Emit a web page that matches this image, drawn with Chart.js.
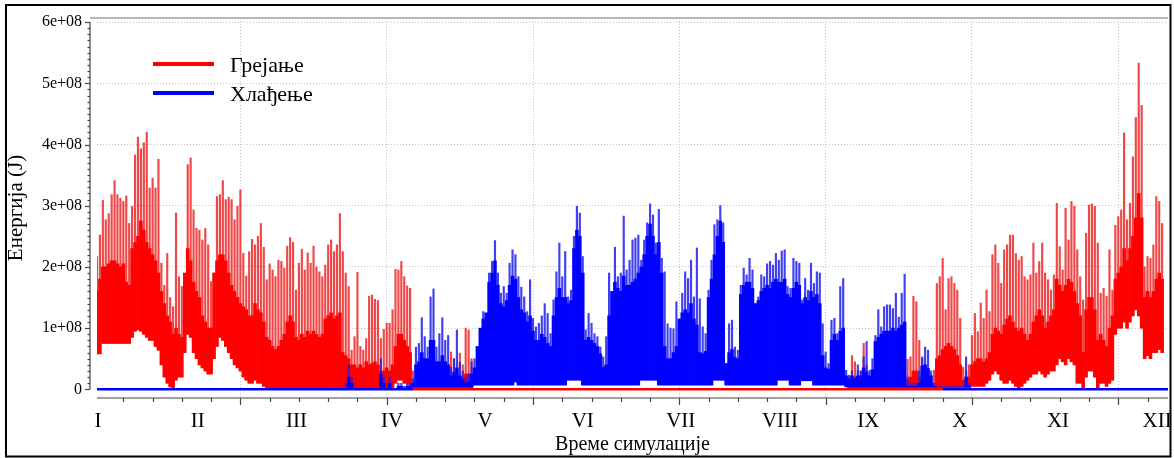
<!DOCTYPE html>
<html>
<head>
<meta charset="utf-8">
<title>Енергија</title>
<script src="https://cdn.jsdelivr.net/npm/chart.js@4.4.1/dist/chart.umd.min.js"></script>
<style>
  html, body { margin: 0; padding: 0; background: #fff; }
  canvas { display: block; }
</style>
</head>
<body>
<canvas id="energyChart" width="1174" height="458"></canvas>
<script>
// Energy per simulated day, in units of 1e8 J.
// peak = daily spike, high/low = top and bottom of the dense hourly band.

// heating, January to early May (first entry = day 0)
var heatStartA = 0;
var heatPeakA = [
    2.17, 2.52, 3.09, 2.77, 2.87, 3.18, 3.41, 3.18, 3.12, 3.07,
    3.16, 2.71, 2.99, 3.83, 4.12, 3.93, 4.03, 4.20, 3.29, 3.45,
    3.29, 3.76, 2.06, 1.70, 2.22, 1.50, 1.35, 2.88, 1.84, 1.68,
    1.68, 3.67, 3.78, 2.93, 2.63, 2.60, 2.44, 2.63, 2.36, 1.76,
    1.90, 3.15, 3.18, 3.41, 3.10, 3.14, 3.10, 2.77, 2.99, 3.26,
    2.22, 1.85, 2.25, 2.45, 2.36, 2.50, 2.71, 2.32, 1.79, 2.05,
    1.95, 1.84, 2.11, 2.09, 1.98, 2.34, 2.48, 2.40, 1.62, 2.06,
    2.29, 1.95, 2.23, 2.06, 2.34, 2.00, 1.92, 1.84, 2.03, 2.36,
    2.44, 2.25, 2.36, 2.87, 2.25, 1.90, 1.68, 0.64, 0.86, 1.91,
    0.70, 0.64, 0.83, 1.52, 1.54, 1.47, 1.45, 0.83, 0.98, 1.08,
    1.08, 1.30, 1.96, 1.95, 2.09, 1.84, 1.69, 1.65, 0.30, 0.20,
    0.15, 0.10, 0.10, 0.15, 0.10, 0.10, 0.10, 0.10, 0.20, 0.10,
    0.30, 0.61, 0.50, 0.30, 0.59, 0.40, 1.00, 0.97, 0.50
];
var heatHighA = [
    1.60, 1.80, 2.00, 2.00, 2.05, 2.10, 2.10, 2.05, 2.00, 2.05,
    1.75, 1.70, 2.30, 2.40, 2.50, 2.75, 2.60, 2.40, 2.30, 2.20,
    2.10, 1.90, 1.60, 1.40, 1.20, 1.10, 0.90, 1.00, 0.90, 0.85,
    1.90, 2.30, 2.10, 1.75, 1.60, 1.50, 1.20, 1.10, 1.00, 1.00,
    1.90, 2.10, 2.20, 2.20, 2.10, 1.90, 1.70, 1.60, 1.50, 1.40,
    1.35, 1.30, 1.20, 1.20, 1.40, 1.30, 1.25, 1.10, 0.85, 0.80,
    0.70, 0.65, 0.70, 0.80, 0.90, 1.10, 1.20, 1.10, 0.85, 0.80,
    0.90, 0.85, 0.95, 0.90, 0.95, 0.90, 0.85, 0.90, 1.15, 1.20,
    1.25, 1.15, 1.20, 1.25, 0.60, 0.55, 0.50, 0.40, 0.40, 0.35,
    0.40, 0.35, 0.45, 0.40, 0.42, 0.45, 0.40, 0.30, 0.30, 0.35,
    0.30, 0.40, 0.70, 0.90, 0.90, 0.80, 0.70, 0.60, 0.08, 0.06,
    0.05, 0.05, 0.05, 0.06, 0.05, 0.05, 0.05, 0.05, 0.06, 0.05,
    0.10, 0.20, 0.20, 0.10, 0.15, 0.20, 0.25, 0.25, 0.10
];
var heatLowA = [
    0.58, 0.58, 0.75, 0.75, 0.75, 0.75, 0.75, 0.75, 0.75, 0.75,
    0.75, 0.75, 0.85, 0.95, 0.97, 0.95, 0.90, 0.85, 0.80, 0.80,
    0.70, 0.64, 0.40, 0.20, 0.10, 0.04, 0, 0.15, 0.20, 0.20,
    0.60, 0.90, 0.85, 0.60, 0.50, 0.40, 0.35, 0.30, 0.25, 0.25,
    0.50, 0.70, 0.85, 0.80, 0.70, 0.60, 0.50, 0.40, 0.35, 0.30,
    0.20, 0.15, 0.10, 0.10, 0.15, 0.10, 0.10, 0.05, 0, 0,
    0, 0, 0, 0, 0, 0, 0, 0, 0, 0,
    0, 0, 0, 0, 0, 0, 0, 0, 0, 0,
    0, 0, 0, 0, 0, 0, 0, 0, 0, 0,
    0, 0, 0, 0, 0, 0, 0, 0, 0, 0,
    0, 0, 0.10, 0.15, 0.15, 0.10, 0.10, 0.05, 0, 0,
    0, 0, 0, 0, 0, 0, 0, 0, 0, 0,
    0, 0, 0, 0, 0, 0, 0, 0, 0
];

// heating, mid September to end of year
var heatStartB = 257;
var heatPeakB = [
    0.20, 0.55, 0.45, 0.31, 0.30, 0.75, 0.40, 0.15, 0.10, 0.15,
    0.10, 0.15, 0.20, 0.10, 0.15, 0.20, 0.15, 0.10, 0.15, 0.20,
    0.49, 0.53, 1.52, 1.43, 0.80, 0.50, 0.30, 0.25, 0.20, 0.31,
    1.73, 1.84, 2.14, 1.30, 1.81, 1.84, 1.73, 1.62, 1.16, 0.36,
    0.30, 0.40, 0.88, 1.24, 0.94, 1.41, 1.16, 1.62, 1.27, 2.20,
    2.36, 2.06, 1.73, 2.28, 2.36, 2.52, 2.52, 2.22, 2.11, 2.17,
    1.84, 1.79, 1.87, 2.39, 1.90, 2.09, 2.39, 1.90, 1.79, 1.62,
    1.87, 3.04, 2.33, 1.95, 2.96, 2.44, 3.07, 2.99, 2.28, 1.84,
    1.46, 2.55, 3.01, 3.03, 2.99, 2.39, 1.57, 1.65, 1.52, 2.28,
    1.62, 2.68, 2.82, 2.93, 4.19, 2.77, 3.04, 3.80, 4.44, 5.33,
    4.64, 2.00, 2.17, 2.14, 2.36, 3.15, 3.07, 2.71
];
var heatHighB = [
    0.10, 0.15, 0.20, 0.20, 0.10, 0.30, 0.15, 0.05, 0.05, 0.05,
    0.05, 0.05, 0.05, 0.05, 0.05, 0.05, 0.05, 0.05, 0.05, 0.05,
    0.15, 0.20, 0.30, 0.30, 0.20, 0.10, 0.10, 0.10, 0.10, 0.10,
    0.50, 0.55, 0.65, 0.70, 0.75, 0.70, 0.65, 0.55, 0.40, 0.15,
    0.15, 0.20, 0.40, 0.45, 0.50, 0.50, 0.45, 0.50, 0.60, 0.90,
    1.00, 0.95, 0.90, 1.05, 1.15, 1.20, 1.10, 1.00, 0.95, 1.00,
    0.90, 0.80, 0.90, 1.10, 1.20, 1.30, 1.20, 1.00, 1.10, 1.20,
    1.30, 1.80, 1.70, 1.60, 1.70, 1.80, 1.75, 1.60, 1.40, 1.20,
    0.60, 1.30, 1.50, 1.50, 1.30, 0.80, 0.90, 0.80, 0.70, 1.00,
    1.20, 1.80, 1.90, 2.00, 2.30, 2.10, 2.30, 2.50, 2.80, 3.20,
    2.80, 1.50, 1.60, 1.50, 1.60, 1.80, 1.90, 1.80
];
var heatLowB = [
    0, 0, 0, 0, 0, 0, 0, 0, 0, 0,
    0, 0, 0, 0, 0, 0, 0, 0, 0, 0,
    0, 0, 0, 0, 0, 0, 0, 0, 0, 0,
    0, 0, 0, 0, 0, 0, 0, 0, 0, 0,
    0, 0, 0.05, 0.05, 0.05, 0.05, 0.05, 0.10, 0.15, 0.25,
    0.30, 0.25, 0.15, 0.10, 0.10, 0.15, 0.10, 0.05, 0, 0.05,
    0.10, 0.15, 0.20, 0.25, 0.25, 0.30, 0.25, 0.20, 0.25, 0.30,
    0.30, 0.40, 0.50, 0.45, 0.40, 0.50, 0.45, 0.40, 0.10, 0.10,
    0, 0.20, 0.30, 0.30, 0.20, 0, 0.10, 0.10, 0.05, 0.10,
    0.15, 0.90, 1.00, 1.00, 1.10, 1.00, 1.10, 1.20, 1.30, 1.20,
    1.00, 0.50, 0.55, 0.50, 0.60, 0.60, 0.65, 0.60
];

// cooling, late March to late October
var coolStart = 85;
var coolPeak = [
    0.10, 0.40, 0.20, 0, 0, 0, 0, 0, 0, 0,
    0, 0, 0.50, 0.20, 0, 0.20, 0, 0, 0.10, 0.10,
    0.05, 0.10, 0.10, 0.17, 0.69, 0.75, 1.17, 0.86, 0.69, 1.51,
    1.64, 0.69, 0.91, 1.17, 0.80, 0.88, 0.36, 0.50, 0.97, 0.44,
    0.30, 0.20, 0.25, 0.45, 0.50, 0.64, 0.86, 1.27, 1.13, 1.90,
    2.09, 2.43, 1.90, 1.57, 1.68, 1.57, 2.06, 2.28, 2.20, 1.84,
    1.67, 1.51, 1.27, 1.79, 1.16, 1.02, 1.08, 1.20, 1.40, 1.24,
    0.91, 1.46, 1.92, 2.39, 1.84, 2.25, 1.51, 1.62, 2.50, 2.99,
    2.88, 2.17, 0.97, 1.24, 1.08, 0.91, 0.86, 0.69, 0.53, 0.86,
    1.90, 1.50, 2.32, 1.84, 1.90, 2.83, 1.95, 2.11, 2.44, 2.47,
    2.52, 2.11, 2.44, 2.72, 3.03, 2.85, 2.39, 2.94, 2.14, 1.92,
    1.07, 1.00, 0.99, 1.43, 1.07, 1.57, 1.92, 1.81, 2.11, 1.51,
    2.31, 1.48, 1.02, 0.91, 1.62, 2.11, 2.69, 2.77, 3.00, 2.72,
    0.42, 1.07, 1.13, 0.69, 0.64, 1.70, 1.98, 1.87, 2.14, 1.95,
    1.40, 1.51, 1.87, 1.84, 2.05, 2.09, 2.03, 2.22, 2.11, 2.26,
    2.28, 1.68, 1.65, 2.14, 2.09, 2.06, 1.46, 1.81, 1.62, 2.06,
    1.73, 1.92, 1.90, 1.07, 0.61, 0.42, 1.13, 1.16, 0.91, 1.68,
    1.81, 0.31, 0.23, 0.30, 0.20, 0.40, 0.30, 0.53, 0.78, 0.31,
    0.50, 0.88, 1.30, 1.02, 1.35, 1.38, 1.38, 1.32, 1.57, 1.18,
    1.57, 1.88, 0.20, 0.10, 0.10, 0.10, 0.30, 0.53, 0.69, 0.64,
    0.30, 0.10, 0.05, 0.05, 0.05, 0.05, 0.05, 0.05, 0.05, 0.05,
    0.05, 0.05, 0.53, 0.10, 0
];
var coolHigh = [
    0, 0.20, 0.10, 0, 0, 0, 0, 0, 0, 0,
    0, 0, 0.25, 0.10, 0, 0.10, 0, 0, 0.05, 0.05,
    0, 0.05, 0.05, 0.10, 0.40, 0.45, 0.60, 0.50, 0.50, 0.80,
    0.80, 0.45, 0.45, 0.55, 0.45, 0.40, 0.22, 0.28, 0.35, 0.22,
    0.15, 0.10, 0.12, 0.25, 0.35, 0.70, 1.00, 1.15, 1.25, 1.75,
    1.90, 2.10, 1.70, 1.40, 1.35, 1.45, 1.70, 1.85, 1.80, 1.50,
    1.30, 1.25, 1.10, 1.20, 0.95, 0.80, 0.80, 0.90, 0.85, 0.75,
    0.70, 1.20, 1.50, 1.65, 1.50, 1.50, 1.40, 1.45, 2.30, 2.60,
    2.50, 1.90, 0.80, 0.85, 0.80, 0.75, 0.70, 0.58, 0.36, 0.40,
    1.20, 1.60, 1.75, 1.65, 1.60, 1.85, 1.70, 1.70, 1.75, 1.80,
    1.90, 2.00, 2.20, 2.50, 2.70, 2.50, 2.20, 2.40, 1.90, 0.70,
    0.50, 0.50, 0.60, 0.70, 1.15, 1.25, 1.30, 1.25, 1.40, 1.15,
    1.05, 0.60, 0.58, 0.62, 1.50, 1.80, 2.20, 2.50, 2.75, 2.40,
    0.42, 0.60, 0.65, 0.52, 0.50, 1.55, 1.70, 1.75, 1.75, 1.65,
    1.40, 1.45, 1.60, 1.65, 1.70, 1.65, 1.75, 1.80, 1.75, 1.75,
    1.80, 1.55, 1.50, 1.65, 1.75, 1.70, 1.40, 1.50, 1.45, 1.60,
    1.50, 1.55, 1.40, 0.55, 0.35, 0.33, 0.80, 0.90, 0.80, 0.95,
    1.00, 0.22, 0.17, 0.22, 0.17, 0.22, 0.22, 0.35, 0.28, 0.22,
    0.32, 0.78, 0.85, 0.90, 0.95, 0.95, 0.95, 1.00, 0.95, 1.00,
    1.05, 1.10, 0.05, 0.05, 0.05, 0.05, 0.10, 0.38, 0.40, 0.34,
    0.22, 0.05, 0, 0, 0, 0, 0, 0, 0, 0,
    0, 0, 0.20, 0.05, 0
];
var coolLow = [
    0, 0, 0, 0, 0, 0, 0, 0, 0, 0,
    0, 0, 0, 0, 0, 0, 0, 0, 0, 0,
    0, 0, 0, 0.04, 0.04, 0.04, 0.04, 0.04, 0.04, 0.04,
    0.04, 0.04, 0.04, 0.04, 0.04, 0.04, 0.04, 0.04, 0.04, 0.04,
    0.04, 0.04, 0.04, 0.04, 0.07, 0.07, 0.07, 0.07, 0.07, 0.07,
    0.07, 0.07, 0.07, 0.07, 0.07, 0.07, 0.07, 0.07, 0.12, 0.07,
    0.07, 0.07, 0.07, 0.07, 0.07, 0.07, 0.07, 0.07, 0.07, 0.07,
    0.07, 0.07, 0.07, 0.07, 0.07, 0.07, 0.15, 0.15, 0.15, 0.15,
    0.15, 0.07, 0.07, 0.07, 0.07, 0.07, 0.07, 0.07, 0.07, 0.07,
    0.07, 0.07, 0.07, 0.07, 0.07, 0.07, 0.07, 0.07, 0.07, 0.07,
    0.07, 0.15, 0.15, 0.15, 0.15, 0.15, 0.15, 0.07, 0.07, 0.07,
    0.07, 0.07, 0.07, 0.07, 0.07, 0.07, 0.07, 0.07, 0.07, 0.07,
    0.07, 0.07, 0.07, 0.07, 0.07, 0.07, 0.15, 0.15, 0.15, 0.15,
    0.07, 0.07, 0.07, 0.07, 0.07, 0.07, 0.07, 0.07, 0.07, 0.07,
    0.07, 0.07, 0.07, 0.07, 0.07, 0.07, 0.07, 0.07, 0.15, 0.15,
    0.15, 0.15, 0.07, 0.07, 0.07, 0.07, 0.14, 0.14, 0.14, 0.14,
    0.07, 0.07, 0.07, 0.07, 0.07, 0.07, 0.07, 0.07, 0.07, 0.07,
    0.07, 0.04, 0.04, 0.04, 0.04, 0.04, 0.04, 0.04, 0.04, 0.04,
    0.04, 0.04, 0.04, 0.04, 0.04, 0.04, 0.04, 0.04, 0.04, 0.04,
    0.04, 0.04, 0.04, 0.04, 0.04, 0.04, 0.04, 0.04, 0.04, 0.04,
    0.04, 0.04, 0.04, 0.04, 0.04, 0.04, 0.04, 0.04, 0.04, 0.04,
    0.04, 0.04, 0.04, 0.04, 0.04
];
// stretches (day of year) where each curve lies flat on zero and shows
var coolZeroRanges = [[1, 109], [290, 367]];
var heatZeroRanges = [[109, 290]];

var seriesNames = ['Грејање', 'Хлађење'];
var monthLabels = ['I', 'II', 'III', 'IV', 'V', 'VI', 'VII', 'VIII', 'IX', 'X', 'XI', 'XII'];
var monthPos = [1.3, 35.4, 69.2, 101.8, 133.6, 167, 200.5, 234.4, 264.6, 295.9, 329.4, 363.3];
var gridDays = [50, 100, 150, 200, 250, 300, 350];
var yTicks = [0, 1e8, 2e8, 3e8, 4e8, 5e8, 6e8];
var yTickLabels = ['0', '1e+08', '2e+08', '3e+08', '4e+08', '5e+08', '6e+08'];

var RED = '#ff0000';
var BLUE = '#0000ff';

// floating bars [low, high] for each day, day 0 sits at x = 1
function dayBars(start, low, high) {
    var out = [];
    for (var i = 0; i < high.length; i++) {
        if (high[i] > low[i]) {
            out.push({ x: 1 + start + i, y: [low[i] * 1e8, high[i] * 1e8] });
        }
    }
    return out;
}

// one flat line dataset per zero stretch
function zeroSets(ranges, name, color, order) {
    return ranges.map(function (r) {
        return {
            type: 'line', label: name,
            data: [{ x: r[0], y: 0 }, { x: r[1], y: 0 }],
            borderColor: color, borderWidth: 2.5, pointRadius: 0, order: order
        };
    });
}

var heatSpikes = dayBars(heatStartA, heatLowA, heatPeakA).concat(dayBars(heatStartB, heatLowB, heatPeakB));
var heatBand = dayBars(heatStartA, heatLowA, heatHighA).concat(dayBars(heatStartB, heatLowB, heatHighB));
var coolSpikes = dayBars(coolStart, coolLow, coolPeak);
var coolBand = dayBars(coolStart, coolLow, coolHigh);

// axes are drawn a little away from the plot, plus the legend and outer frame
var decorPlugin = {
    id: 'decor',
    afterDraw: function (chart) {
        var ctx = chart.ctx;
        var area = chart.chartArea;
        var xs = chart.scales.x;
        var ys = chart.scales.y;
        var axisX = area.left - 7;
        var y0 = ys.getPixelForValue(0);
        var yTop = ys.getPixelForValue(yTicks[yTicks.length - 1]);

        function line(x1, y1, x2, y2) {
            ctx.beginPath();
            ctx.moveTo(x1, y1);
            ctx.lineTo(x2, y2);
            ctx.stroke();
        }

        ctx.save();
        ctx.strokeStyle = '#a0a0a0';
        ctx.lineWidth = 1.5;
        line(axisX, area.top, area.right, area.top);

        ctx.strokeStyle = '#444';
        ctx.lineWidth = 1.2;
        line(axisX, yTop, axisX, y0);
        for (var v = 0; v <= 6e8; v += 1e7) {
            var py = Math.round(ys.getPixelForValue(v)) + 0.5;
            line(axisX - (v % 1e8 === 0 ? 5 : 2.5), py, axisX, py);
        }

        line(area.left, area.bottom, area.right, area.bottom);
        for (var d = 10; d <= 360; d += 10) {
            var px = Math.round(xs.getPixelForValue(d)) + 0.5;
            line(px, area.bottom, px, area.bottom + (d % 50 === 0 ? 7 : 4));
        }

        // legend
        ctx.font = "22px 'Liberation Serif'";
        ctx.fillStyle = '#000';
        ctx.textBaseline = 'alphabetic';
        [RED, BLUE].forEach(function (c, i) {
            var ly = area.top + 46 + i * 29;
            ctx.strokeStyle = c;
            ctx.lineWidth = 4;
            line(area.left + 56, ly, area.left + 117, ly);
            ctx.fillText(seriesNames[i], area.left + 133, ly + 8);
        });

        ctx.strokeStyle = '#000';
        ctx.lineWidth = 2;
        ctx.strokeRect(6, 5, 1164.5, 451.5);
        ctx.restore();
    }
};

Chart.defaults.font.family = "'Liberation Serif', 'Times New Roman', serif";
Chart.defaults.color = '#000';

var ctx = document.getElementById('energyChart').getContext('2d');
new Chart(ctx, {
    type: 'bar',
    data: {
        datasets: zeroSets(heatZeroRanges, seriesNames[0], RED, 0)
            .concat(zeroSets(coolZeroRanges, seriesNames[1], BLUE, 1))
            .concat([
                { type: 'bar', label: seriesNames[1], data: coolBand, backgroundColor: BLUE, order: 2 },
                { type: 'bar', label: seriesNames[1], data: coolSpikes, backgroundColor: 'rgba(30,30,240,0.85)', maxBarThickness: 1.5, order: 3 },
                { type: 'bar', label: seriesNames[0], data: heatBand, backgroundColor: RED, order: 5 },
                { type: 'bar', label: seriesNames[0], data: heatSpikes, backgroundColor: 'rgba(235,40,40,0.85)', maxBarThickness: 1.5, order: 6 }
            ])
    },
    options: {
        responsive: false,
        animation: false,
        devicePixelRatio: 1,
        layout: { padding: { top: 18, right: 6, left: 0, bottom: 0 } },
        plugins: {
            legend: { display: false },
            tooltip: { enabled: false }
        },
        datasets: {
            bar: { grouped: false, borderWidth: 0, categoryPercentage: 1, barPercentage: 1 }
        },
        scales: {
            x: {
                type: 'linear', position: 'bottom', min: 1, max: 367, offset: false, weight: 0,
                afterBuildTicks: function (s) { s.ticks = gridDays.map(function (v) { return { value: v }; }); },
                afterFit: function (s) { s.height = 0; s.paddingLeft = 0; s.paddingRight = 0; },
                ticks: { display: false },
                grid: { color: '#c4c4c4', drawTicks: false, offset: false },
                border: { display: false, dash: [1, 2] }
            },
            xm: {
                type: 'linear', position: 'bottom', min: 1, max: 367, offset: false, weight: 1,
                afterBuildTicks: function (s) { s.ticks = monthPos.map(function (v) { return { value: v }; }); },
                afterFit: function (s) { s.height = 60; s.paddingLeft = 0; s.paddingRight = 0; },
                ticks: {
                    autoSkip: false, maxRotation: 0, padding: 11, font: { size: 21 },
                    callback: function (v, i) { return monthLabels[i]; }
                },
                grid: { display: false, drawTicks: false, offset: false },
                border: { display: false },
                title: { display: true, text: 'Време симулације', font: { size: 20 }, padding: { top: 0, bottom: 1 } }
            },
            y: {
                type: 'linear', min: -0.142e8, max: 6.067e8,
                afterBuildTicks: function (s) { s.ticks = yTicks.map(function (v) { return { value: v }; }); },
                afterFit: function (s) { s.width = 97; s.paddingTop = 0; s.paddingBottom = 0; },
                ticks: {
                    padding: 15, font: { size: 16 },
                    callback: function (v, i) { return yTickLabels[i]; }
                },
                grid: {
                    color: function (c) { return c.tick && c.tick.value === 0 ? 'rgba(0,0,0,0)' : '#c4c4c4'; },
                    drawTicks: false
                },
                border: { display: false, dash: [1, 2] },
                title: { display: true, text: 'Енергија (J)', font: { size: 21 }, padding: { top: 4, bottom: 0 } }
            }
        }
    },
    plugins: [decorPlugin]
});
</script>
</body>
</html>
